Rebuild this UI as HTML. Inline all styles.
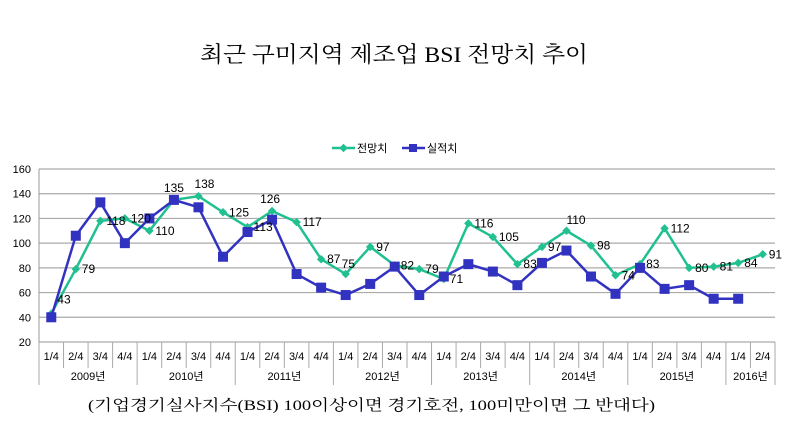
<!DOCTYPE html>
<html><head><meta charset="utf-8">
<style>
html,body{margin:0;padding:0;background:#fff;}
svg{display:block;}
text{font-family:"Liberation Sans","Noto Sans CJK KR",sans-serif;}
</style></head>
<body>
<svg id="s" width="792" height="426" xmlns="http://www.w3.org/2000/svg">
<text x="200" y="62" font-size="22" textLength="388" lengthAdjust="spacingAndGlyphs" style="font-family:'Liberation Serif','Noto Serif CJK SC',serif">최근 구미지역 제조업 BSI 전망치 추이</text>
<line x1="332" y1="148" x2="355" y2="148" stroke="#20c090" stroke-width="2.5"/>
<rect x="340.5" y="145" width="6" height="6" fill="#20c090" transform="rotate(45 343.5 148)"/>
<text x="357" y="152" font-size="11">전망치</text>
<line x1="402" y1="148" x2="425" y2="148" stroke="#3232c0" stroke-width="2.5"/>
<rect x="409" y="144" width="8" height="8" fill="#3232c0"/>
<text x="427" y="152" font-size="11">실적치</text>
<g id="g"></g>
<text x="88" y="410" font-size="15" textLength="567" lengthAdjust="spacingAndGlyphs" style="font-family:'Liberation Serif','Noto Serif CJK SC',serif">(기업경기실사지수(BSI) 100이상이면 경기호전, 100미만이면 그 반대다)</text>
</svg>
<script>
const G=document.getElementById('g');let h='';
const L=39,R=775,N=30,W=(R-L)/N;
const y=v=>342-(v-20)*1.2357;const x=i=>L+W*(i+0.5);
for(let v=20;v<=160;v+=20){h+=`<line x1="${L}" x2="${R}" y1="${y(v)}" y2="${y(v)}" stroke="#aaa" stroke-width="1.2"/>`;
h+=`<text x="31" y="${y(v)+4}" font-size="11" text-anchor="end">${v}</text>`;}
h+=`<line x1="${L}" x2="${L}" y1="169" y2="385" stroke="#999"/>`;
for(let i=0;i<=N;i++){const xx=L+W*i;const yr=(i%4==0)||i==N;h+=`<line x1="${xx}" x2="${xx}" y1="342" y2="${yr?385:368}" stroke="#aaa"/>`;}
for(let i=0;i<N;i++){h+=`<text x="${x(i)}" y="360" font-size="11" text-anchor="middle">${(i%4)+1}/4</text>`;}
const yrs=['2009년','2010년','2011년','2012년','2013년','2014년','2015년','2016년'];
yrs.forEach((t,k)=>{const a=k*4,b=Math.min(N,k*4+4);h+=`<text x="${L+W*(a+b)/2}" y="380" font-size="11" text-anchor="middle">${t}</text>`;});
const gv=[43,79,118,120,110,135,138,125,113,126,117,87,75,97,82,79,71,116,105,83,97,110,98,74,83,112,80,81,84,91];
const bv=[40,106,133,100,120,135,129,89,109,119,75,64,58,67,81,58,73,83,77,66,84,94,73,59,80,63,66,55,55];
h+=`<polyline fill="none" stroke="#20c090" stroke-width="2.5" points="${gv.map((v,i)=>x(i)+','+y(v)).join(' ')}"/>`;
gv.forEach((v,i)=>{h+=`<rect x="${x(i)-3}" y="${y(v)-3}" width="6" height="6" fill="#20c090" transform="rotate(45 ${x(i)} ${y(v)})"/>`;});
h+=`<polyline fill="none" stroke="#3232c0" stroke-width="2.5" points="${bv.map((v,i)=>x(i)+','+y(v)).join(' ')}"/>`;
bv.forEach((v,i)=>{h+=`<rect x="${x(i)-5}" y="${y(v)-5}" width="10" height="10" fill="#3232c0"/>`;});
const up={5:[-10,-8],6:[-4,-8],9:[-12,-8],12:[-4,-6],21:[0,-7]};
gv.forEach((v,i)=>{let dx=6,dy=4;if(i==0){dy=-10;}if(up[i]){dx=up[i][0];dy=up[i][1];}
h+=`<text x="${x(i)+dx}" y="${y(v)+dy}" font-size="12">${v}</text>`;});
G.innerHTML=h;
</script>
</body></html>
